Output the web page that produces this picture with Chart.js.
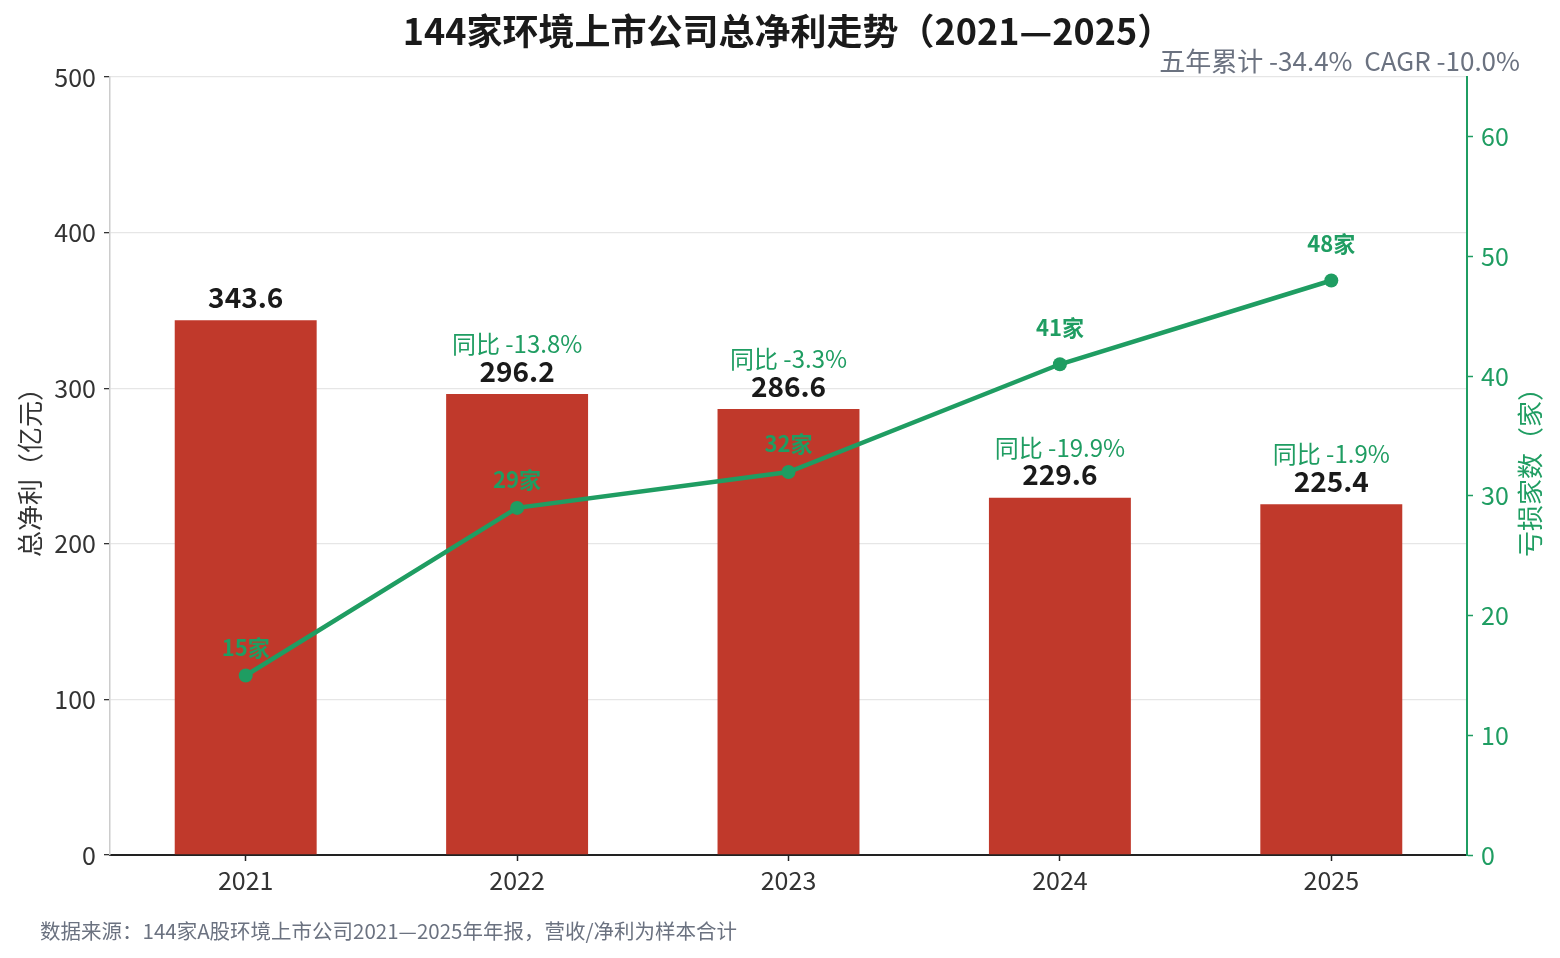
<!DOCTYPE html>
<html>
<head>
<meta charset="utf-8">
<script src="https://cdn.jsdelivr.net/npm/chart.js@4/dist/chart.umd.min.js"></script>
<style>
  html, body { margin: 0; padding: 0; background: #fff; }
  #c { display: block; }
</style>
</head>
<body>
<canvas id="c" width="1560" height="958" style="width:1560px;height:958px"></canvas>
<script>
// chart data
var years = ['2021', '2022', '2023', '2024', '2025'];
var netProfit = [343.6, 296.2, 286.6, 229.6, 225.4];      // 亿元
var lossCount = [15, 29, 32, 41, 48];                      // 家
var yoyText = ['', '同比 -13.8%', '同比 -3.3%', '同比 -19.9%', '同比 -1.9%'];

var titleText = '144家环境上市公司总净利走势（2021—2025）';
var subText = '五年累计 -34.4%  CAGR -10.0%';
var noteText = '数据来源：144家A股环境上市公司2021—2025年年报，营收/净利为样本合计';
var yTitle = '总净利（亿元）';
var y1Title = '亏损家数（家）';

var RED = '#c0392b';
var GREEN = '#1f9d62';
var GRAY = '#6b7280';
var FONT = '"Noto Sans CJK SC", "Noto Sans", sans-serif';

Chart.defaults.font.family = FONT;

// titles, axis names, value labels
var decor = {
    id: 'decor',
    afterDatasetsDraw: function(chart) {
        var ctx = chart.ctx;
        var bars = chart.getDatasetMeta(0).data;
        var pts = chart.getDatasetMeta(1).data;
        ctx.save();
        ctx.textAlign = 'center';
        ctx.textBaseline = 'middle';
        for (var i = 0; i < bars.length; i++) {
            ctx.fillStyle = '#1a1a1a';
            ctx.font = 'bold 28px ' + FONT;
            ctx.fillText(netProfit[i].toFixed(1), bars[i].x, bars[i].y - 23);
            if (yoyText[i]) {
                ctx.fillStyle = GREEN;
                ctx.font = '24px ' + FONT;
                ctx.fillText(yoyText[i], bars[i].x, bars[i].y - 50);
            }
        }
        for (var j = 0; j < pts.length; j++) {
            ctx.fillStyle = GREEN;
            ctx.font = 'bold 22px ' + FONT;
            var dy = lossCount[j] > 35 ? 37 : 28;
            ctx.fillText(lossCount[j] + '家', pts[j].x, pts[j].y - dy);
        }
        ctx.restore();
    },
    afterDraw: function(chart) {
        var ctx = chart.ctx;
        var a = chart.chartArea;
        var midY = (a.top + a.bottom) / 2;
        ctx.save();
        ctx.textBaseline = 'middle';

        ctx.fillStyle = '#1a1a1a';
        ctx.font = 'bold 36px ' + FONT;
        ctx.textAlign = 'center';
        ctx.fillText(titleText, chart.width / 2 + 8, 31);

        ctx.fillStyle = GRAY;
        ctx.font = '26px ' + FONT;
        ctx.textAlign = 'right';
        ctx.fillText(subText, 1520, 61);

        ctx.font = '20.5px ' + FONT;
        ctx.textAlign = 'left';
        ctx.fillText(noteText, 40, 931);

        ctx.font = '26px ' + FONT;
        ctx.textAlign = 'center';
        ctx.fillStyle = '#333';
        ctx.save();
        ctx.translate(30, midY);
        ctx.rotate(-Math.PI / 2);
        ctx.fillText(yTitle, 0, 0);
        ctx.restore();

        ctx.fillStyle = GREEN;
        ctx.save();
        ctx.translate(1530, midY);
        ctx.rotate(-Math.PI / 2);
        ctx.fillText(y1Title, 0, 0);
        ctx.restore();

        ctx.restore();
    }
};

var chart = new Chart(document.getElementById('c'), {
    type: 'bar',
    data: {
        labels: years,
        datasets: [{
            type: 'bar',
            data: netProfit,
            backgroundColor: RED,
            yAxisID: 'y',
            barPercentage: 0.523,
            categoryPercentage: 1.0,
            order: 2
        }, {
            type: 'line',
            data: lossCount,
            borderColor: GREEN,
            backgroundColor: GREEN,
            borderWidth: 4.5,
            pointRadius: 7,
            pointBorderWidth: 0,
            pointBackgroundColor: GREEN,
            yAxisID: 'y1',
            tension: 0,
            order: 1
        }]
    },
    options: {
        responsive: false,
        animation: false,
        layout: { padding: { top: 77, left: 0, right: 0, bottom: 0 } },
        plugins: {
            legend: { display: false },
            tooltip: { enabled: false },
            title: { display: false }
        },
        scales: {
            x: {
                grid: { offset: false, drawOnChartArea: false, tickLength: 6, tickColor: '#222', tickWidth: 1.5 },
                border: { color: '#222', width: 2 },
                ticks: { color: '#333', font: { size: 25 }, padding: 4 },
                afterFit: function(s) { s.height = 103; }
            },
            y: {
                position: 'left',
                min: 0,
                max: 500,
                ticks: { stepSize: 100, color: '#333', font: { size: 25 }, padding: 8 },
                grid: { color: '#e6e6e6', lineWidth: 1.3, tickLength: 6, tickColor: '#333', tickWidth: 1.3 },
                border: { color: '#cccccc', width: 1.5 },
                afterFit: function(s) { s.width = 110; }
            },
            y1: {
                position: 'right',
                min: 0,
                max: 65,
                ticks: { stepSize: 10, color: GREEN, font: { size: 25 }, padding: 8 },
                grid: { drawOnChartArea: false, tickLength: 6, tickColor: GREEN, tickWidth: 1.5 },
                border: { color: GREEN, width: 2 },
                afterBuildTicks: function(s) {
                    s.ticks = s.ticks.filter(function(t) { return t.value % 10 === 0; });
                },
                afterFit: function(s) { s.width = 93; }
            }
        }
    },
    plugins: [decor]
});
</script>
</body>
</html>
